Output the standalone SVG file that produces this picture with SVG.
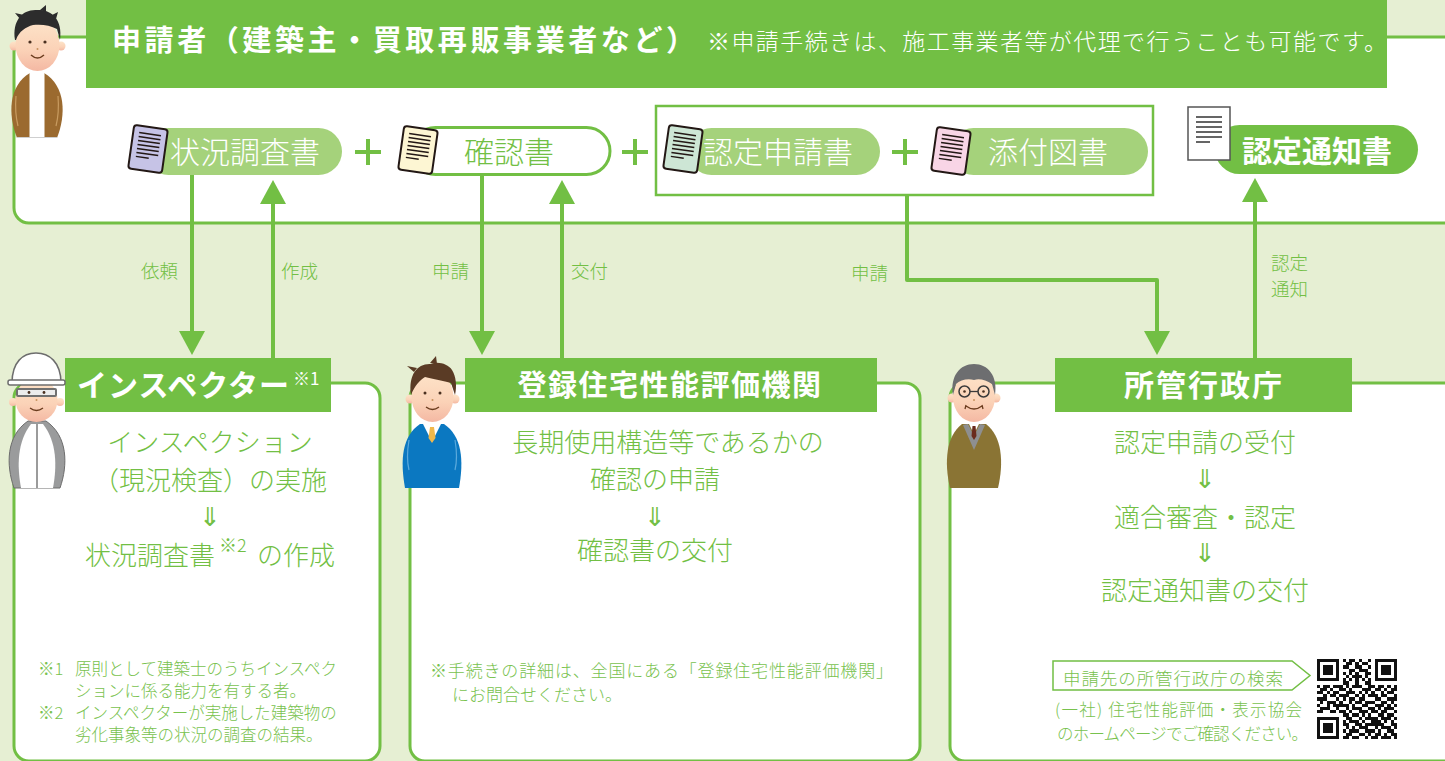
<svg xmlns="http://www.w3.org/2000/svg" width="1445" height="761" viewBox="0 0 1445 761">
  <style>
    .jp { font-family: "Noto Sans CJK JP", "Noto Sans", sans-serif; }
    .frame { fill: #ffffff; stroke: #72bf44; stroke-width: 3; }
    .head { fill: #72bf44; }
    .htxt { fill: #ffffff; font-weight: 700; }
    .pill { fill: #a5d27b; }
    .ptxt { fill: #ffffff; font-size: 30px; font-weight: 300; text-anchor: middle; }
    .body { fill: #72bf44; font-size: 26px; font-weight: 300; }
    .mid { text-anchor: middle; }
    .note { fill: #78c24e; font-size: 16.5px; font-weight: 300; }
    .lbl { fill: #72bf44; font-size: 18.5px; font-weight: 300; }
    .plus { stroke: #72bf44; stroke-width: 4; fill: none; }
    .conn { stroke: #72bf44; stroke-width: 4; fill: none; }
    .skin { fill: url(#skin); }
    .ink { fill: #4a3020; }
  </style>
  <defs>
    <linearGradient id="skin" x1="0" y1="0" x2="0" y2="1">
      <stop offset="0" stop-color="#fde4c9"/>
      <stop offset="0.6" stop-color="#fbd2b7"/>
      <stop offset="1" stop-color="#f4b8a3"/>
    </linearGradient>
    <marker id="arr" viewBox="0 0 24 26" refX="0" refY="13" markerWidth="24" markerHeight="26" markerUnits="userSpaceOnUse" orient="auto">
      <path d="M0 0L24 13L0 26Z" fill="#72bf44"/>
    </marker>
    <g id="doc">
      <rect x="-17" y="-22" width="34" height="44" rx="3" fill="currentColor" stroke="#231815" stroke-width="2"/>
      <path d="M-11 -15H11M-11 -11H11M-11 -7H11M-11 -3H11M-11 1H11M-11 5H11M-11 9H2" stroke="#231815" stroke-width="1.5"/>
    </g>
  </defs>

  <!-- background -->
  <rect width="1445" height="761" fill="#e6efd3"/>

  <!-- applicant frame -->
  <g id="applicant" class="jp">
    <rect class="frame" x="14" y="37" width="1470" height="186" rx="15"/>
    <rect class="head" x="86" y="0" width="1301" height="88"/>
    <text class="htxt" x="112" y="51" font-size="29" textLength="583" lengthAdjust="spacing">申請者（建築主・買取再販事業者など）</text>
    <text x="707" y="50" font-size="23" fill="#ffffff" font-weight="300" textLength="680" lengthAdjust="spacing">※申請手続きは、施工事業者等が代理で行うことも可能です。</text>
  </g>

  <!-- connectors -->
  <g id="connectors">
    <path class="conn" d="M192 175V331" marker-end="url(#arr)"/>
    <path class="conn" d="M273 358V204" marker-end="url(#arr)"/>
    <path class="conn" d="M482 175V331" marker-end="url(#arr)"/>
    <path class="conn" d="M562 358V204" marker-end="url(#arr)"/>
    <path class="conn" d="M907 195V280H1157V331" stroke-width="5" stroke-linejoin="round" marker-end="url(#arr)"/>
    <path class="conn" d="M1255 358V202" marker-end="url(#arr)"/>
    <g class="jp lbl">
      <text x="141" y="278">依頼</text>
      <text x="281" y="278">作成</text>
      <text x="432" y="278">申請</text>
      <text x="571" y="278">交付</text>
      <text x="851" y="280">申請</text>
      <text x="1271" y="270">認定</text>
      <text x="1271" y="296">通知</text>
    </g>
  </g>

  <!-- document: inspection report -->
  <g id="doc-report" class="jp">
    <rect class="pill" x="145" y="128" width="197" height="47" rx="23.5"/>
    <use href="#doc" transform="translate(148 149) rotate(8)" color="#c6c3e6"/>
    <text class="ptxt" x="245" y="163">状況調査書</text>
  </g>
  <path class="plus" d="M355 152H381M368 139V165"/>

  <!-- document: confirmation -->
  <g id="doc-confirm" class="jp">
    <rect x="412" y="127.5" width="198" height="47" rx="23.5" fill="#ffffff" stroke="#72bf44" stroke-width="3"/>
    <use href="#doc" transform="translate(418 150) rotate(8)" color="#fdf6d3"/>
    <text class="ptxt" x="509" y="163" style="fill:#72bf44">確認書</text>
  </g>
  <path class="plus" d="M622 152H648M635 139V165"/>

  <!-- application set -->
  <g id="doc-application" class="jp">
    <rect x="656" y="106" width="497" height="89" fill="#ffffff" stroke="#72bf44" stroke-width="2.5"/>
    <rect class="pill" x="688" y="128" width="192" height="47" rx="23.5"/>
    <use href="#doc" transform="translate(683 149) rotate(8)" color="#cde6d5"/>
    <text class="ptxt" x="778" y="163">認定申請書</text>
    <path class="plus" d="M892 152H918M905 139V165"/>
    <rect class="pill" x="950" y="128" width="198" height="47" rx="23.5"/>
    <use href="#doc" transform="translate(951 151) rotate(8)" color="#f8d5e6"/>
    <text class="ptxt" x="1048" y="163">添付図書</text>
  </g>

  <!-- certificate -->
  <g id="doc-certificate" class="jp">
    <rect x="1215" y="125" width="203" height="49" rx="24.5" fill="#72bf44"/>
    <rect x="1188" y="107" width="42" height="53" fill="#ffffff" stroke="#555555" stroke-width="1.5"/>
    <path d="M1196 117H1222M1196 122H1222M1196 127H1222M1196 132H1222M1196 137H1222M1196 142H1210" stroke="#333333" stroke-width="1.3"/>
    <text x="1317" y="162" font-size="30" font-weight="700" fill="#ffffff" text-anchor="middle">認定通知書</text>
  </g>

  <!-- inspector -->
  <g id="inspector" class="jp">
    <rect class="frame" x="14" y="383" width="366" height="378" rx="15"/>
    <rect class="head" x="65" y="358" width="266" height="54"/>
    <text class="htxt" x="77" y="396" font-size="30" letter-spacing="1">インスペクター</text>
    <text x="293" y="385" font-size="17" fill="#ffffff">※1</text>
    <text class="body mid" x="210" y="452">インスペクション</text>
    <text class="body mid" x="210" y="490">（現況検査）の実施</text>
    <text class="body mid" x="210" y="526">⇓</text>
    <text class="body" x="85" y="565">状況調査書</text>
    <text class="body" x="219" y="552" style="font-size:18px">※2</text>
    <text class="body" x="257" y="565">の作成</text>
    <g class="note">
      <text x="38" y="675">※1</text>
      <text x="75" y="675">原則として建築士のうちインスペク</text>
      <text x="75" y="697">ションに係る能力を有する者。</text>
      <text x="38" y="719">※2</text>
      <text x="75" y="719">インスペクターが実施した建築物の</text>
      <text x="75" y="741">劣化事象等の状況の調査の結果。</text>
    </g>
    <!-- figure in helmet -->
    <path d="M14 488C6 465 6 436 28 421H46C68 436 68 465 60 488Z" fill="#9a9b9c" stroke="#6d6d6d" stroke-width="1"/>
    <path d="M21 488C17 466 17 442 31 424H43C57 442 57 466 53 488Z" fill="#ffffff"/>
    <path d="M37 424V488" stroke="#7a7a7a" stroke-width="1.5"/>
    <circle class="skin" cx="13" cy="402" r="4"/>
    <circle class="skin" cx="60" cy="402" r="4"/>
    <ellipse class="skin" cx="36.5" cy="400" rx="21" ry="22"/>
    <path d="M12 383C12 362 23 353 36 353C49 353 61 362 61 383Z" fill="#ffffff" stroke="#6d6d6d" stroke-width="1.5"/>
    <rect x="8" y="380" width="57" height="5" rx="2" fill="#ffffff" stroke="#6d6d6d" stroke-width="1.5"/>
    <rect x="17" y="389" width="39" height="7" rx="1" fill="#ececec" stroke="#707070" stroke-width="2"/>
    <circle class="ink" cx="29" cy="392.5" r="1.4"/>
    <circle class="ink" cx="44" cy="392.5" r="1.4"/>
    <circle cx="36.5" cy="400" r="1" fill="#c8925e"/>
    <path d="M30 408Q36.5 413 43 408" stroke="#6b3c1e" stroke-width="1.3" fill="none"/>
  </g>

  <!-- registered evaluation body -->
  <g id="evaluation-body" class="jp">
    <rect class="frame" x="410" y="383" width="510" height="378" rx="15"/>
    <rect class="head" x="465" y="358" width="412" height="54"/>
    <text class="htxt mid" x="670" y="396" font-size="29" letter-spacing="1.5">登録住宅性能評価機関</text>
    <text class="body mid" x="668" y="452">長期使用構造等であるかの</text>
    <text class="body mid" x="655" y="489">確認の申請</text>
    <text class="body mid" x="655" y="526">⇓</text>
    <text class="body mid" x="655" y="560">確認書の交付</text>
    <g class="note">
      <text x="430" y="677" style="font-size:17px" textLength="463" lengthAdjust="spacing">※手続きの詳細は、全国にある「登録住宅性能評価機関」</text>
      <text x="452" y="701" style="font-size:17px">にお問合せください。</text>
    </g>
    <!-- figure in blue suit -->
    <path d="M405 488C400 460 402 436 420 424H444C462 436 464 460 459 488Z" fill="#0b78c1"/>
    <path d="M409 440C407 452 407 462 409 470M455 440C457 452 457 462 455 470" stroke="#5aa9dc" stroke-width="1.2" fill="none"/>
    <path d="M423 424L432 442L441 424Z" fill="#ffffff"/>
    <path d="M430 427H434L435.5 438L432 443L428.5 438Z" fill="#f2b84b"/>
    <circle class="skin" cx="410" cy="399" r="4.5"/>
    <circle class="skin" cx="455" cy="399" r="4.5"/>
    <ellipse class="skin" cx="432.5" cy="397" rx="21" ry="25"/>
    <path d="M411 395C408 374 418 363 431 364C438 361 448 364 452 370C456 376 457 386 455 395L451 383C444 381 433 379 425 377C420 380 415 385 411 395Z" fill="#5a3b25"/>
    <path d="M414 372L407 366L417 368ZM430 363L436 356L437 364Z" fill="#5a3b25"/>
    <circle class="ink" cx="425" cy="393" r="1.5"/>
    <circle class="ink" cx="440" cy="393" r="1.5"/>
    <circle cx="432.5" cy="400" r="1" fill="#c8925e"/>
    <path d="M426 407Q432.5 412 439 407" stroke="#6b3c1e" stroke-width="1.3" fill="none"/>
  </g>

  <!-- competent administrative agency -->
  <g id="agency" class="jp">
    <rect class="frame" x="950" y="383" width="520" height="378" rx="15"/>
    <rect class="head" x="1055" y="358" width="297" height="54"/>
    <text class="htxt mid" x="1204" y="396" font-size="30" letter-spacing="2">所管行政庁</text>
    <text class="body mid" x="1205" y="452">認定申請の受付</text>
    <text class="body mid" x="1205" y="488">⇓</text>
    <text class="body mid" x="1205" y="527">適合審査・認定</text>
    <text class="body mid" x="1205" y="562">⇓</text>
    <text class="body mid" x="1205" y="600">認定通知書の交付</text>
    <path d="M1053 661H1292L1310 675.5L1292 690H1053Z" fill="#ffffff" stroke="#72bf44" stroke-width="1.5"/>
    <g class="note">
      <text x="1063" y="685" style="font-size:17.5px" textLength="220" lengthAdjust="spacing">申請先の所管行政庁の検索</text>
      <text x="1055" y="716" textLength="247" lengthAdjust="spacing">(一社) 住宅性能評価・表示協会</text>
      <text x="1057" y="740" textLength="251" lengthAdjust="spacing">のホームページでご確認ください。</text>
    </g>
    <!-- QR code -->
    <g transform="translate(1317 659) scale(3.2)" shape-rendering="crispEdges">
      <rect x="-0.3" y="-0.3" width="25.6" height="25.6" fill="#ffffff"/>
      <path fill="#111111" d="M0 0h7v1h-7zM8 0h1v1h-1zM10 0h2v1h-2zM13 0h1v1h-1zM16 0h1v1h-1zM18 0h7v1h-7z
      M0 1h1v1h-1zM6 1h1v1h-1zM9 1h2v1h-2zM12 1h1v1h-1zM14 1h2v1h-2zM18 1h1v1h-1zM24 1h1v1h-1z
      M0 2h1v1h-1zM2 2h3v1h-3zM6 2h1v1h-1zM8 2h2v1h-2zM12 2h2v1h-2zM16 2h1v1h-1zM18 2h1v1h-1zM20 2h3v1h-3zM24 2h1v1h-1z
      M0 3h1v1h-1zM2 3h3v1h-3zM6 3h1v1h-1zM10 3h2v1h-2zM13 3h3v1h-3zM18 3h1v1h-1zM20 3h3v1h-3zM24 3h1v1h-1z
      M0 4h1v1h-1zM2 4h3v1h-3zM6 4h1v1h-1zM8 4h1v1h-1zM10 4h1v1h-1zM12 4h1v1h-1zM15 4h2v1h-2zM18 4h1v1h-1zM20 4h3v1h-3zM24 4h1v1h-1z
      M0 5h1v1h-1zM6 5h1v1h-1zM9 5h1v1h-1zM11 5h3v1h-3zM15 5h1v1h-1zM18 5h1v1h-1zM24 5h1v1h-1z
      M0 6h7v1h-7zM8 6h1v1h-1zM10 6h1v1h-1zM12 6h1v1h-1zM14 6h1v1h-1zM16 6h1v1h-1zM18 6h7v1h-7z
      M8 7h2v1h-2zM12 7h1v1h-1zM15 7h2v1h-2z
      M0 8h1v1h-1zM2 8h2v1h-2zM5 8h3v1h-3zM9 8h1v1h-1zM11 8h3v1h-3zM16 8h2v1h-2zM19 8h2v1h-2zM22 8h1v1h-1zM24 8h1v1h-1z
      M1 9h2v1h-2zM4 9h1v1h-1zM7 9h2v1h-2zM10 9h1v1h-1zM14 9h3v1h-3zM18 9h2v1h-2zM21 9h1v1h-1zM23 9h2v1h-2z
      M0 10h2v1h-2zM3 10h1v1h-1zM5 10h2v1h-2zM9 10h3v1h-3zM13 10h1v1h-1zM15 10h1v1h-1zM17 10h1v1h-1zM20 10h1v1h-1zM22 10h2v1h-2z
      M2 11h1v1h-1zM4 11h2v1h-2zM7 11h3v1h-3zM12 11h1v1h-1zM14 11h1v1h-1zM16 11h3v1h-3zM20 11h2v1h-2zM24 11h1v1h-1z
      M0 12h3v1h-3zM6 12h1v1h-1zM8 12h1v1h-1zM10 12h2v1h-2zM13 12h2v1h-2zM18 12h2v1h-2zM22 12h3v1h-3z
      M1 13h1v1h-1zM3 13h3v1h-3zM7 13h1v1h-1zM10 13h1v1h-1zM12 13h2v1h-2zM15 13h3v1h-3zM20 13h2v1h-2zM23 13h1v1h-1z
      M0 14h1v1h-1zM3 14h1v1h-1zM5 14h5v1h-5zM11 14h1v1h-1zM14 14h2v1h-2zM18 14h3v1h-3zM22 14h1v1h-1zM24 14h1v1h-1z
      M1 15h3v1h-3zM6 15h1v1h-1zM9 15h1v1h-1zM11 15h3v1h-3zM16 15h2v1h-2zM19 15h1v1h-1zM21 15h3v1h-3z
      M0 16h2v1h-2zM4 16h2v1h-2zM7 16h2v1h-2zM10 16h1v1h-1zM13 16h3v1h-3zM17 16h2v1h-2zM20 16h2v1h-2zM24 16h1v1h-1z
      M8 17h2v1h-2zM11 17h2v1h-2zM14 17h1v1h-1zM16 17h1v1h-1zM19 17h2v1h-2zM22 17h2v1h-2z
      M0 18h7v1h-7zM9 18h2v1h-2zM13 18h1v1h-1zM15 18h4v1h-4zM20 18h3v1h-3zM24 18h1v1h-1z
      M0 19h1v1h-1zM6 19h1v1h-1zM8 19h1v1h-1zM10 19h3v1h-3zM14 19h1v1h-1zM17 19h3v1h-3zM21 19h1v1h-1zM23 19h1v1h-1z
      M0 20h1v1h-1zM2 20h3v1h-3zM6 20h1v1h-1zM8 20h2v1h-2zM12 20h2v1h-2zM15 20h6v1h-6zM23 20h2v1h-2z
      M0 21h1v1h-1zM2 21h3v1h-3zM6 21h1v1h-1zM9 21h1v1h-1zM11 21h1v1h-1zM13 21h3v1h-3zM18 21h1v1h-1zM20 21h3v1h-3zM24 21h1v1h-1z
      M0 22h1v1h-1zM2 22h3v1h-3zM6 22h1v1h-1zM8 22h1v1h-1zM10 22h3v1h-3zM15 22h3v1h-3zM19 22h1v1h-1zM22 22h2v1h-2z
      M0 23h1v1h-1zM6 23h1v1h-1zM9 23h2v1h-2zM13 23h2v1h-2zM16 23h1v1h-1zM18 23h2v1h-2zM21 23h1v1h-1zM23 23h2v1h-2z
      M0 24h7v1h-7zM8 24h2v1h-2zM11 24h2v1h-2zM15 24h1v1h-1zM17 24h2v1h-2zM20 24h3v1h-3zM24 24h1v1h-1z"/>
    </g>
    <!-- figure in olive suit -->
    <path d="M950 488C944 462 946 436 962 424H986C1002 436 1004 462 998 488Z" fill="#8a7434"/>
    <path d="M963 425L974 450L985 425L980 424L974 436L968 424Z" fill="#8e8f90"/>
    <path d="M969 424L974 434L979 424Z" fill="#ffffff"/>
    <path d="M972.5 426H975.5L976.5 436L974 440L971.5 436Z" fill="#6a2a1c"/>
    <circle class="skin" cx="952" cy="398" r="4.5"/>
    <circle class="skin" cx="996" cy="398" r="4.5"/>
    <ellipse class="skin" cx="974" cy="397" rx="21" ry="25"/>
    <path d="M953 395C950 376 960 364 974 364C988 364 998 376 995 395L992 384C986 380 979 378 974 380C968 378 960 380 956 384Z" fill="#6d6e70"/>
    <circle cx="964.5" cy="391.5" r="5.5" fill="none" stroke="#3a3a3a" stroke-width="1.5"/>
    <circle cx="983.5" cy="391.5" r="5.5" fill="none" stroke="#3a3a3a" stroke-width="1.5"/>
    <path d="M970 391.5H978" stroke="#3a3a3a" stroke-width="1.3"/>
    <circle class="ink" cx="964.5" cy="391.5" r="1.3"/>
    <circle class="ink" cx="983.5" cy="391.5" r="1.3"/>
    <circle cx="974" cy="400" r="1" fill="#c8925e"/>
    <path d="M966 406Q974 412 982 406M966 405L965 409M982 405L983 409" stroke="#6b3c1e" stroke-width="1.3" fill="none"/>
  </g>

  <!-- applicant figure -->
  <g id="applicant-figure">
    <path d="M17 138C8 115 8 86 30 73H44C66 86 66 115 57 138Z" fill="#9b6a2f"/>
    <path d="M16 96C15 108 16 118 18 126M58 96C59 108 58 118 56 126" stroke="#c89b60" stroke-width="1.2" fill="none"/>
    <rect x="29.5" y="70" width="15" height="68" fill="#ffffff"/>
    <path d="M17 137.5H57" stroke="#cfcfcf" stroke-width="1.2"/>
    <circle class="skin" cx="14" cy="46" r="4.5"/>
    <circle class="skin" cx="61" cy="46" r="4.5"/>
    <ellipse class="skin" cx="37.5" cy="45" rx="22" ry="26"/>
    <path d="M15 40C12 20 23 9 37 10C51 9 63 19 60 40L57 29C50 25 41 24 33 25C26 27 19 31 16 40Z" fill="#2c2c2c"/>
    <path d="M20 19L15 13L24 15ZM40 10L46 5L46 12ZM52 15L58 12L56 19Z" fill="#2c2c2c"/>
    <circle class="ink" cx="30" cy="42" r="1.6"/>
    <circle class="ink" cx="45" cy="42" r="1.6"/>
    <circle cx="37.5" cy="49" r="1" fill="#c8925e"/>
    <path d="M31 55Q37.5 61 44 55" stroke="#6b3c1e" stroke-width="1.4" fill="none"/>
  </g>
</svg>
